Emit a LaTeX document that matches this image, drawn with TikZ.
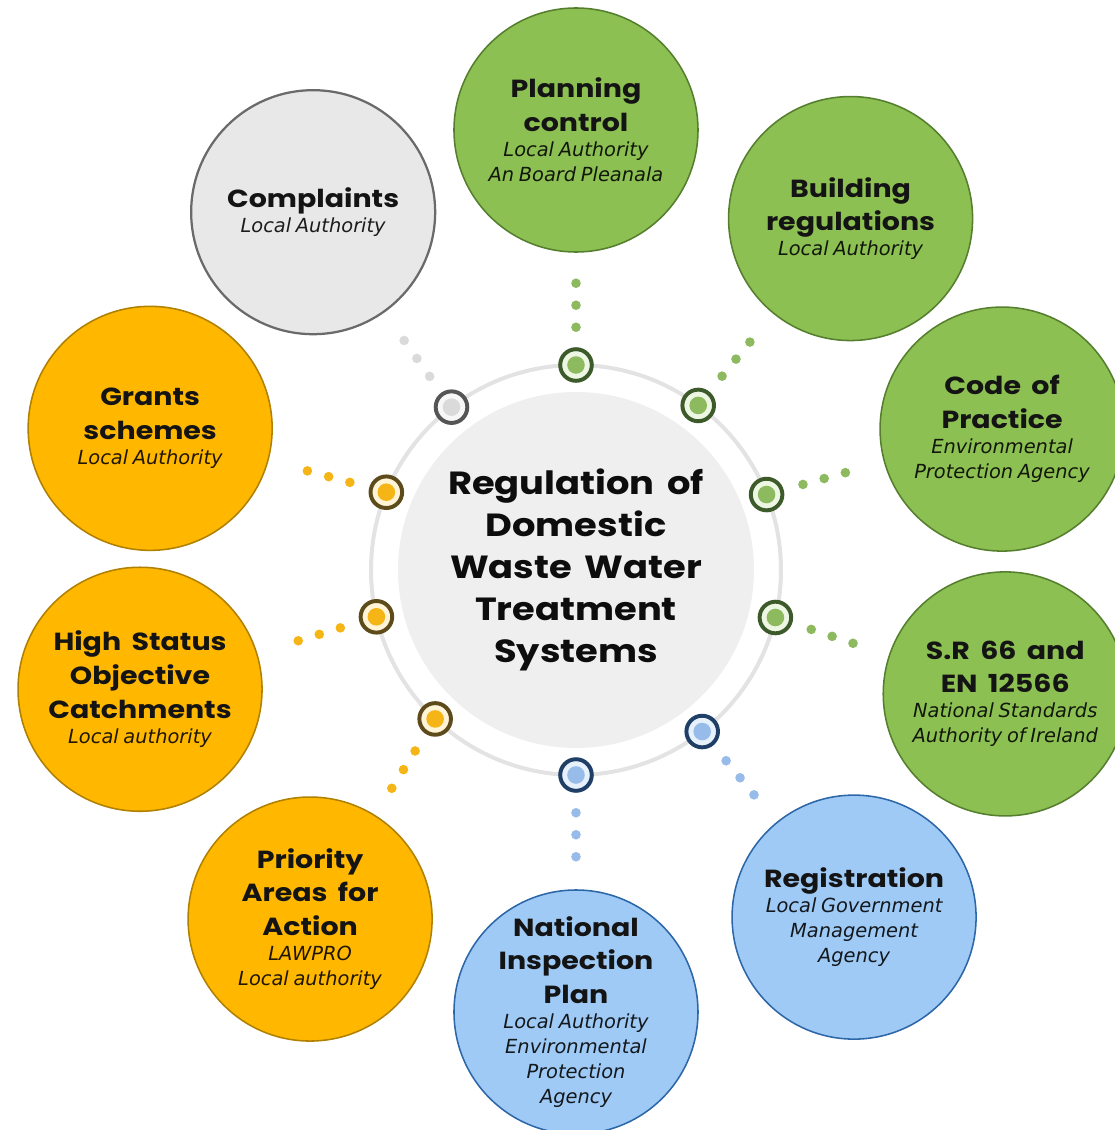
\documentclass[tikz,border=0pt]{standalone}
\usepackage{fontspec}
\newfontfamily\popfont{Poppins}[FakeStretch=1.15, WordSpace=1.6]
\newfontfamily\dejafont{DejaVu Sans}
\definecolor{grnFill}{HTML}{8DC052}
\definecolor{grnEdge}{HTML}{557F2E}
\definecolor{grnRing}{HTML}{3D5A2B}
\definecolor{grnPale}{HTML}{EDF6E3}
\definecolor{grnDot}{HTML}{8EBA5F}
\definecolor{orgFill}{HTML}{FFB700}
\definecolor{orgEdge}{HTML}{B08000}
\definecolor{orgRing}{HTML}{5E4B1C}
\definecolor{orgPale}{HTML}{FFF4D6}
\definecolor{orgDot}{HTML}{F5B516}
\definecolor{bluFill}{HTML}{9FCAF5}
\definecolor{bluEdge}{HTML}{2D67A8}
\definecolor{bluRing}{HTML}{1F3F66}
\definecolor{bluPale}{HTML}{E6F1FC}
\definecolor{bluDot}{HTML}{98BCEA}
\definecolor{gryFill}{HTML}{E8E8E8}
\definecolor{gryEdge}{HTML}{6A6A6A}
\definecolor{gryRing}{HTML}{555555}
\definecolor{gryPale}{HTML}{F7F7F7}
\definecolor{gryDot}{HTML}{DADADA}
\definecolor{hubFill}{HTML}{EFEFEF}
\definecolor{hubRing}{HTML}{E3E3E3}
\tikzset{
  hub/.style={circle, fill=hubFill, minimum size=8.9cm, inner sep=0pt, align=center,
    font=\popfont\bfseries\fontsize{22.8pt}{29.9pt}\selectfont, text=black!95},
  ring/.style={draw=hubRing, line width=0.1cm},
  topic/.style={circle, draw=#1Edge, fill=#1Fill, line width=1.1pt, minimum size=6.1cm, inner sep=0pt},
  knob/.style={circle, draw=#1Ring, fill=#1Pale, line width=2.8pt, minimum size=0.79cm, inner sep=0pt,
    path picture={\fill[#1Dot] (path picture bounding box.center) circle (0.22cm);}},
  beads/.style={draw=#1Dot, line width=0.24cm, line cap=round, dash pattern=on 0pt off 0.55cm,
    shorten <=0.5cm, shorten >=0.6cm},
  txt/.style={text width=6cm, align=center, text=black!92,
    execute at begin node={\colorlet{whocol}{black!88!#1Fill}}},
}
\newcommand{\hd}[1]{{\popfont\bfseries\fontsize{17.6pt}{24pt}\selectfont\spaceskip=.42em\relax #1\par}}
\newcommand{\who}[1]{{\dejafont\itshape\fontsize{13.8pt}{17.8pt}\selectfont\color{whocol}#1\par}}

\begin{document}
\begin{tikzpicture}
  \useasboundingbox (-14.4,-14) rectangle (13.475,14.25);
  % the hub with its ring
  \node[hub] (hub) at (0,0) {Regulation of\\Domestic\\Waste Water\\Treatment\\Systems};
  \draw[ring] (hub.center) circle (5.125cm);

  % knobs sitting on the ring
  \node[knob=grn] (k-plan) at (90:5.125) {};
  \node[knob=grn] (k-build) at (53.4:5.125) {};
  \node[knob=grn] (k-code) at (21.6:5.125) {};
  \node[knob=grn] (k-sr) at (-13.4:5.125) {};
  \node[knob=blu] (k-reg) at (-52:5.125) {};
  \node[knob=blu] (k-nip) at (-90:5.125) {};
  \node[knob=org] (k-prio) at (-133.4:5.125) {};
  \node[knob=org] (k-high) at (193.2:5.125) {};
  \node[knob=org] (k-grant) at (157.7:5.125) {};
  \node[knob=gry] (k-compl) at (127.4:5.125) {};

  % the ten topics round the hub
  \node[topic=grn] (plan) at (90:11) {};
  \node[txt=grn] at (plan) {\hd{Planning\\control}\who{Local Authority\\An Board Pleanala}};
  \node[topic=grn] (build) at (52:11.15) {};
  \node[txt=grn] at (build) {\hd{Building\\regulations}\who{Local Authority}};
  \node[topic=grn] (code) at (18.3:11.22) {};
  \node[txt=grn] at (code) {\hd{Code of\\Practice}\who{Environmental\\Protection Agency}};
  \node[topic=grn] (sr) at (-16.1:11.17) {};
  \node[txt=grn] at (sr) {\hd{S.R 66 and\\EN 12566}\who{National Standards\\Authority of Ireland}};
  \node[topic=blu] (reg) at (-51.3:11.12) {};
  \node[txt=blu] at (reg) {\hd{Registration}\who{Local Government\\Management\\Agency}};
  \node[topic=blu] (nip) at (-90:11.05) {};
  \node[txt=blu] at (nip) {\hd{National\\Inspection\\Plan}\who{Local Authority\\Environmental\\Protection\\Agency}};
  \node[topic=org] (prio) at (-127.3:10.97) {};
  \node[txt=org] at (prio) {\hd{Priority\\Areas for\\Action}\who{LAWPRO\\Local authority}};
  \node[topic=org] (high) at (195.3:11.3) {};
  \node[txt=org] at (high) {\hd{High Status\\Objective\\Catchments}\who{Local authority}};
  \node[topic=org] (grant) at (161.6:11.22) {};
  \node[txt=org] at (grant) {\hd{Grants\\schemes}\who{Local Authority}};
  \node[topic=gry, line width=1.6pt] (compl) at (126.3:11.1) {};
  \node[txt=gry] at (compl) {\hd{Complaints}\who{Local Authority}};

  % dotted links out to the topics
  \draw[beads=grn] (k-plan) -- (plan);
  \draw[beads=grn] (k-build) -- (build);
  \draw[beads=grn] (k-code) -- (code);
  \draw[beads=grn] (k-sr) -- (sr);
  \draw[beads=blu] (k-reg) -- (reg);
  \draw[beads=blu] (k-nip) -- (nip);
  \draw[beads=org] (k-prio) -- (prio);
  \draw[beads=org] (k-high) -- (high);
  \draw[beads=org] (k-grant) -- (grant);
  \draw[beads=gry] (k-compl) -- (compl);
\end{tikzpicture}
\end{document}
